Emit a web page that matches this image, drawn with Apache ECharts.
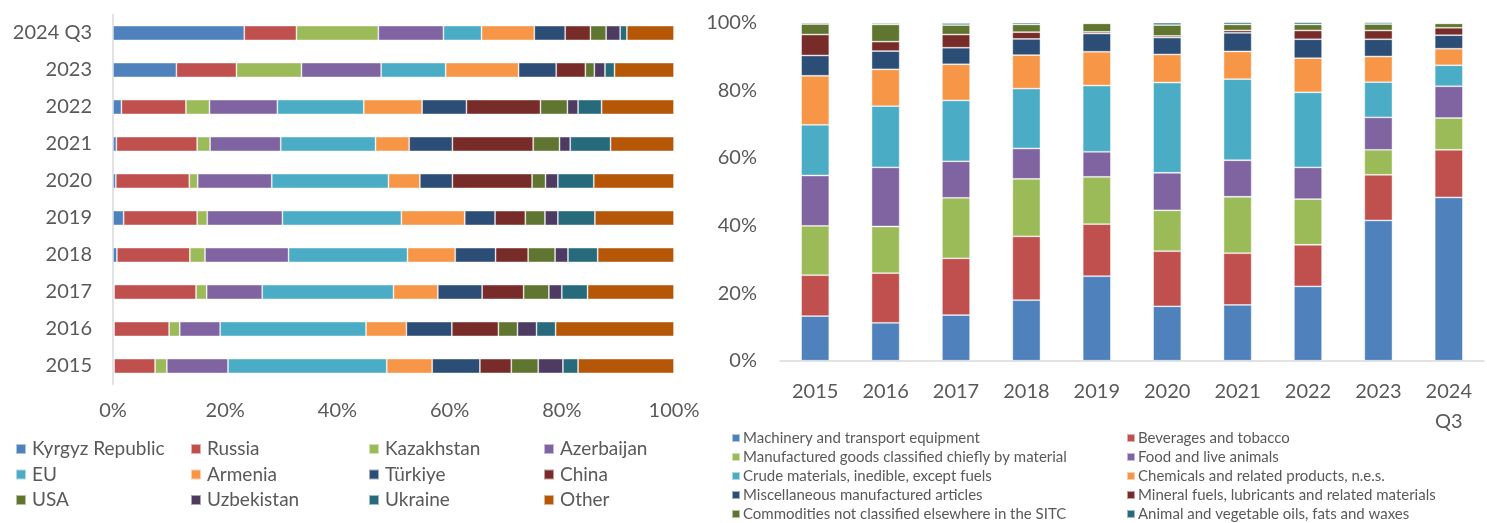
<!DOCTYPE html>
<html>
<head>
<meta charset="utf-8">
<script src="https://cdn.jsdelivr.net/npm/echarts@6/dist/echarts.min.js"></script>
<style>
html,body{margin:0;padding:0;background:#fff;}
#chart{width:1487px;height:523px;}
</style>
</head>
<body>
<div id="chart"></div>
<script>
// ---- Left chart: partners (share of exports, %) ----
const leftCategories = ['2015','2016','2017','2018','2019','2020','2021','2022','2023','2024 Q3'];
const partnerNames = ['Kyrgyz Republic','Russia','Kazakhstan','Azerbaijan','EU','Armenia','Türkiye','China','USA','Uzbekistan','Ukraine','Other'];
const kyrgyz     = [0.2, 0.2, 0.2, 0.7, 1.9, 0.5, 0.6, 1.5, 11.3, 23.4];
const russia     = [7.3, 9.8, 14.6, 13.0, 13.1, 13.1, 14.4, 11.5, 10.7, 9.3];
const kazakhstan = [2.1, 1.9, 1.9, 2.7, 1.8, 1.5, 2.3, 4.2, 11.6, 14.6];
const azerbaijan = [10.9, 7.2, 9.9, 14.9, 13.4, 13.2, 12.6, 12.1, 14.2, 11.6];
const eu         = [28.3, 26.0, 23.4, 21.2, 21.2, 20.8, 16.9, 15.4, 11.5, 6.8];
const armenia    = [8.1, 7.2, 7.9, 8.5, 11.3, 5.6, 6.0, 10.4, 13.0, 9.4];
const turkiye    = [8.5, 8.1, 7.9, 7.2, 5.4, 5.8, 7.7, 7.9, 6.7, 5.5];
const china      = [5.6, 8.3, 7.4, 5.8, 5.4, 14.2, 14.4, 13.2, 5.2, 4.5];
const usa        = [4.8, 3.4, 4.5, 4.8, 3.5, 2.4, 4.7, 4.8, 1.6, 2.8];
const uzbekistan = [4.4, 3.4, 2.3, 2.3, 2.3, 2.2, 1.9, 1.9, 1.9, 2.5];
const ukraine    = [2.7, 3.4, 4.6, 5.3, 6.6, 6.4, 7.2, 4.2, 1.7, 1.2];
const other      = [17.1, 21.1, 15.4, 13.6, 14.1, 14.3, 11.3, 12.9, 10.6, 8.4];
const partnerValues = [kyrgyz, russia, kazakhstan, azerbaijan, eu, armenia, turkiye, china, usa, uzbekistan, ukraine, other];

// ---- Right chart: product groups (share of exports, %) ----
const rightCategories = ['2015','2016','2017','2018','2019','2020','2021','2022','2023','2024\nQ3'];
const productNames = ['Machinery and transport equipment','Beverages and tobacco','Manufactured goods classified chiefly by material','Food and live animals','Crude materials, inedible, except fuels','Chemicals and related products, n.e.s.','Miscellaneous manufactured articles','Mineral fuels, lubricants and related materials','Commodities not classified elsewhere in the SITC','Animal and vegetable oils, fats and waxes'];
const machinery    = [13.2, 11.2, 13.5, 17.9, 25.0, 16.1, 16.5, 22.0, 41.5, 48.3];
const beverages    = [12.1, 14.7, 16.8, 18.9, 15.4, 16.3, 15.3, 12.3, 13.5, 14.1];
const manufactured = [14.6, 13.8, 17.9, 17.0, 14.0, 12.1, 16.7, 13.5, 7.4, 9.4];
const food         = [14.9, 17.5, 10.8, 9.0, 7.4, 11.1, 10.8, 9.4, 9.6, 9.4];
const crude        = [15.0, 18.1, 18.0, 17.7, 19.6, 26.7, 24.0, 22.2, 10.4, 6.2];
const chemicals    = [14.5, 10.9, 10.7, 9.9, 10.0, 8.3, 8.2, 10.1, 7.6, 4.9];
const misc         = [6.0, 5.4, 4.9, 4.8, 5.4, 5.0, 5.5, 5.6, 5.1, 4.0];
const mineral      = [6.2, 2.8, 3.9, 2.0, 0.5, 0.5, 0.7, 2.6, 2.6, 2.2];
const commodities  = [3.1, 5.1, 2.8, 2.3, 2.5, 3.2, 1.8, 1.8, 1.9, 1.3];
const oils         = [0.4, 0.4, 0.6, 0.5, 0.2, 0.7, 0.6, 0.6, 0.5, 0.2];
const productValues = [machinery, beverages, manufactured, food, crude, chemicals, misc, mineral, commodities, oils];

const partnerColors = ['#4F81BD','#C0504D','#9BBB59','#8064A2','#4BACC6','#F79646','#2C4D75','#772C2A','#5F7530','#4D3B62','#276A7C','#B65708'];
const productColors = ['#4F81BD','#C0504D','#9BBB59','#8064A2','#4BACC6','#F79646','#2C4D75','#772C2A','#5F7530','#276A7C'];

const FONT = 'Lato, "Noto Sans", sans-serif';
const TXT = '#595959';

const series = [];
partnerNames.forEach((n, i) => {
  series.push({
    name: n, type: 'bar', stack: 'left', xAxisIndex: 0, yAxisIndex: 0,
    data: partnerValues[i], barCategoryGap: '60%',
    itemStyle: { color: partnerColors[i], borderColor: 'rgba(255,255,255,0.55)', borderWidth: 0.8 },
    emphasis: { disabled: true }
  });
});
productNames.forEach((n, i) => {
  series.push({
    name: n, type: 'bar', stack: 'right', xAxisIndex: 1, yAxisIndex: 1,
    data: productValues[i], barCategoryGap: '60%',
    itemStyle: { color: productColors[i], borderColor: 'rgba(255,255,255,0.55)', borderWidth: 0.8 },
    emphasis: { disabled: true }
  });
});

function leftLegend(names, left) {
  return {
    orient: 'vertical', left: left, top: 439.5, padding: 0, itemWidth: 10, itemHeight: 10, itemGap: 6.5,
    icon: 'rect', selectedMode: false, data: names,
    textStyle: { fontFamily: FONT, fontSize: 19, color: TXT, lineHeight: 19, padding: [0, 0, 0, 1] }
  };
}
function rightLegend(names, left) {
  return {
    orient: 'vertical', left: left, top: 430.5, padding: 0, itemWidth: 8, itemHeight: 8, itemGap: 4,
    icon: 'rect', selectedMode: false, data: names,
    textStyle: { fontFamily: FONT, fontSize: 15, color: TXT, lineHeight: 15, padding: [0, 0, 0, -2] }
  };
}

const option = {
  animation: false,
  textStyle: { fontFamily: FONT },
  grid: [
    { left: 113, right: 813, top: 14.5, bottom: 138.5 },
    { left: 780, right: 3, top: 22.7, bottom: 162.3 }
  ],
  xAxis: [
    { type: 'value', gridIndex: 0, min: 0, max: 100, interval: 20,
      axisLine: { show: false }, axisTick: { show: false }, splitLine: { show: false },
      axisLabel: { formatter: '{value}%', fontSize: 20, color: TXT, fontFamily: FONT, margin: 16 } },
    { type: 'category', gridIndex: 1, data: rightCategories,
      axisLine: { show: true, lineStyle: { color: '#D9D9D9', width: 1.5 } }, axisTick: { show: false },
      axisLabel: { fontSize: 20, color: TXT, fontFamily: FONT, margin: 16, lineHeight: 30, interval: 0 } }
  ],
  yAxis: [
    { type: 'category', gridIndex: 0, data: leftCategories,
      axisLine: { show: true, lineStyle: { color: '#D9D9D9', width: 1.5 } }, axisTick: { show: false },
      axisLabel: { fontSize: 20, color: TXT, fontFamily: FONT, margin: 21 } },
    { type: 'value', gridIndex: 1, min: 0, max: 100, interval: 20,
      axisLine: { show: false }, axisTick: { show: false }, splitLine: { show: false },
      axisLabel: { formatter: '{value}%', fontSize: 20, color: TXT, fontFamily: FONT, margin: 23 } }
  ],
  legend: [
    leftLegend([partnerNames[0], partnerNames[4], partnerNames[8]], 15),
    leftLegend([partnerNames[1], partnerNames[5], partnerNames[9]], 190),
    leftLegend([partnerNames[2], partnerNames[6], partnerNames[10]], 368),
    leftLegend([partnerNames[3], partnerNames[7], partnerNames[11]], 543),
    rightLegend([productNames[0], productNames[2], productNames[4], productNames[6], productNames[8]], 731),
    rightLegend([productNames[1], productNames[3], productNames[5], productNames[7], productNames[9]], 1126)
  ],
  series: series
};

const chart = echarts.init(document.getElementById('chart'), null, { renderer: 'canvas' });
chart.setOption(option);
</script>
</body>
</html>
